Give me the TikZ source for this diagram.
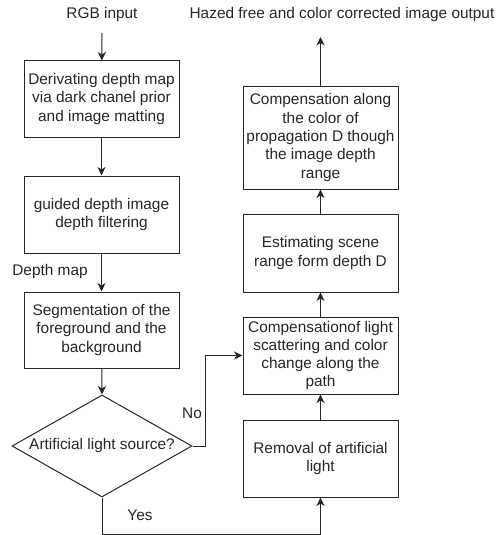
\documentclass[tikz,border=0pt]{standalone}
\usepackage{fontspec}
\setmainfont{Liberation Sans}
\usetikzlibrary{arrows.meta,shapes.geometric}
\definecolor{ink}{HTML}{262626}
\begin{document}
\begin{tikzpicture}[x=1pt,y=-1pt,
  font=\fontsize{15.4}{18.3}\selectfont,
  every node/.style={text=ink},
  box/.style={draw=ink,line width=1pt,rectangle,minimum width=155pt,inner sep=0pt,align=center},
  lbl/.style={inner sep=0pt,align=center},
  arr/.style={draw=ink,line width=1pt,-{Stealth[length=8.5pt,width=8pt,inset=2.5pt]}},
  flow/.style={draw=ink,line width=1pt}]
\useasboundingbox (0,0) rectangle (496,535);

% left column
\node[lbl] (rgb) at (102,15) {RGB input};
\coordinate (rgbEnd) at (102,33);
\node[box,minimum height=76pt] (deriv) at (101.5,99) {Derivating depth map\\via dark chanel prior\\and image matting};
\node[box,minimum height=77pt] (guided) at (101.5,214.5) {guided depth image\\depth filtering};
\node[box,minimum height=76pt] (seg) at (101.5,330) {Segmentation of the\\foreground and the\\background};
\node[draw=ink,line width=1pt,diamond,minimum width=180pt,minimum height=102pt,inner sep=0pt] (dec) at (102,446) {};
\node[lbl] (dectext) at (dec.center) {Artificial light source?};
\node[lbl] (dmap) at (50,272) {Depth map};

% right column
\node[lbl] (out) at (342,15) {Hazed free and color corrected image output};
\coordinate (outEnd) at (320.5,37);
\node[box,minimum height=103pt] (compD) at (320.5,137.5) {Compensation along\\the color of\\propagation D though\\the image depth\\range};
\node[box,minimum height=78pt] (est) at (320.5,253) {Estimating scene\\range form depth D};
\node[box,minimum height=77pt] (comp) at (320.5,355.5) {Compensationof light\\scattering and color\\change along the\\path};
\node[box,minimum height=77pt] (rem) at (320.5,458.5) {Removal of artificial\\light};

% branch labels
\node[lbl] (no) at (192,413) {No};
\node[lbl] (yes) at (140,515) {Yes};

% connectors
\draw[arr] (rgbEnd) -- (deriv);
\draw[arr] (deriv) -- (guided);
\draw[arr] (guided) -- (seg);
\draw[arr] (seg) -- (dec.north);
\draw[arr] (dec.east) -- ++(13,0) |- (comp.west);
\draw[arr] (dec.south) -- ++(0,37) -| (rem.south);
\draw[arr] (rem) -- (comp);
\draw[arr] (comp) -- (est);
\draw[arr] (est) -- (compD);
\draw[arr] (compD) -- (outEnd);
\end{tikzpicture}
\end{document}
